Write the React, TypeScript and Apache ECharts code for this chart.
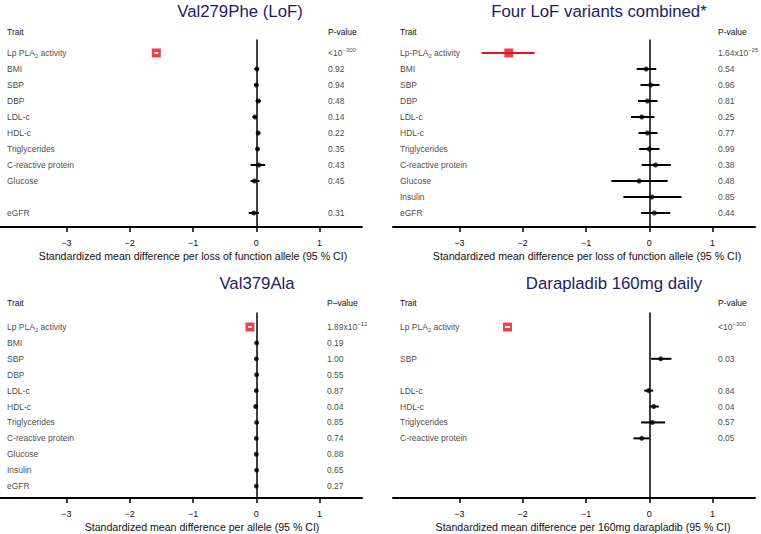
import React, { useEffect, useRef } from "react";
import * as echarts from "echarts";

// ---------- Data ----------
// Row slots: 0 Lp-PLA2, 1 BMI, 2 SBP, 3 DBP, 4 LDL-c, 5 HDL-c, 6 Triglycerides,
// 7 C-reactive protein, 8 Glucose, 9 Insulin, 10 eGFR
const xTicks = [-3, -2, -1, 0, 1];

const v279Rows = [0, 1, 2, 3, 4, 5, 6, 7, 8, 10];
const v279Labels = ["Lp PLA2 activity", "BMI", "SBP", "DBP", "LDL-c", "HDL-c", "Triglycerides", "C-reactive protein", "Glucose", "eGFR"];
const v279Est = [-1.58, 0.01, 0.0, 0.03, -0.02, 0.03, 0.02, 0.04, -0.03, -0.04];
const v279Lo = [-1.61, -0.03, -0.03, -0.01, -0.06, 0.01, -0.01, -0.09, -0.09, -0.12];
const v279Hi = [-1.55, 0.04, 0.03, 0.07, 0.01, 0.05, 0.04, 0.14, 0.05, 0.04];
const v279P = ["<10^−300", "0.92", "0.94", "0.48", "0.14", "0.22", "0.35", "0.43", "0.45", "0.31"];

const lof4Rows = [0, 1, 2, 3, 4, 5, 6, 7, 8, 9, 10];
const lof4Labels = ["Lp-PLA2 activity", "BMI", "SBP", "DBP", "LDL-c", "HDL-c", "Triglycerides", "C-reactive protein", "Glucose", "Insulin", "eGFR"];
const lof4Est = [-2.22, -0.05, 0.02, -0.03, -0.12, -0.03, 0.0, 0.1, -0.16, 0.04, 0.08];
const lof4Lo = [-2.65, -0.2, -0.14, -0.18, -0.29, -0.17, -0.16, -0.12, -0.6, -0.41, -0.13];
const lof4Hi = [-1.81, 0.11, 0.16, 0.13, 0.08, 0.13, 0.16, 0.34, 0.29, 0.51, 0.33];
const lof4P = ["1.64x10^−25", "0.54", "0.96", "0.81", "0.25", "0.77", "0.99", "0.38", "0.48", "0.85", "0.44"];

const v379Rows = [0, 1, 2, 3, 4, 5, 6, 7, 8, 9, 10];
const v379Labels = ["Lp PLA2 activity", "BMI", "SBP", "DBP", "LDL-c", "HDL-c", "Triglycerides", "C-reactive protein", "Glucose", "Insulin", "eGFR"];
const v379Est = [-0.1, 0.005, 0.0, 0.005, 0.0, -0.01, 0.005, 0.0, 0.0, 0.005, 0.0];
const v379Lo = [-0.13, -0.01, -0.015, -0.01, -0.015, -0.025, -0.01, -0.015, -0.015, -0.01, -0.015];
const v379Hi = [-0.07, 0.02, 0.015, 0.02, 0.015, 0.005, 0.02, 0.015, 0.015, 0.02, 0.015];
const v379P = ["1.89x10^−12", "0.19", "1.00", "0.55", "0.87", "0.04", "0.85", "0.74", "0.88", "0.65", "0.27"];

const daraRows = [0, 2, 4, 5, 6, 7];
const daraLabels = ["Lp PLA2 activity", "SBP", "LDL-c", "HDL-c", "Triglycerides", "C-reactive protein"];
const daraEst = [-2.24, 0.18, -0.01, 0.07, 0.05, -0.12];
const daraLo = [-2.28, 0.03, -0.08, 0.01, -0.13, -0.25];
const daraHi = [-2.2, 0.35, 0.06, 0.15, 0.25, 0.0];
const daraP = ["<10^−300", "0.03", "0.84", "0.04", "0.57", "0.05"];

// ---------- Layout / style ----------
const FONT = "Liberation Sans, Arial, Helvetica, sans-serif";
const X_MIN = -4.05;
const X_MAX = 1.67;
const RED = "#e3161c";
const TXT = "#111111";

const panels = [
  {
    title: "Val279Phe (LoF)", titleX: 240, titleY: 11,
    left: 0, top: 40, height: 187, yMin: -0.8125, yMax: 10.875, headerY: 32,
    pHeader: "P-value", pOffset: 328,
    axisName: "Standardized mean difference per loss of function allele (95 % CI)", namePad: 24,
    rows: v279Rows, labels: v279Labels, est: v279Est, lo: v279Lo, hi: v279Hi, p: v279P, lpRed: false,
  },
  {
    title: "Four LoF variants combined*", titleX: 599, titleY: 11,
    left: 393, top: 40, height: 187, yMin: -0.8125, yMax: 10.875, headerY: 32,
    pHeader: "P-value", pOffset: 325,
    axisName: "Standardized mean difference per loss of function allele (95 % CI)", namePad: 26,
    rows: lof4Rows, labels: lof4Labels, est: lof4Est, lo: lof4Lo, hi: lof4Hi, p: lof4P, lpRed: true,
  },
  {
    title: "Val379Ala", titleX: 257, titleY: 283,
    left: 0, top: 313, height: 185, yMin: -0.88, yMax: 10.75, headerY: 303,
    pHeader: "P–value", pOffset: 327,
    axisName: "Standardized mean difference per allele (95 % CI)", namePad: 42,
    rows: v379Rows, labels: v379Labels, est: v379Est, lo: v379Lo, hi: v379Hi, p: v379P, lpRed: false,
  },
  {
    title: "Darapladib 160mg daily", titleX: 614, titleY: 283,
    left: 393, top: 313, height: 185, yMin: -0.88, yMax: 10.75, headerY: 303,
    pHeader: "P-value", pOffset: 325,
    axisName: "Standardized mean difference per 160mg darapladib (95 % CI)", namePad: 18,
    rows: daraRows, labels: daraLabels, est: daraEst, lo: daraLo, hi: daraHi, p: daraP, lpRed: false,
  },
];
const GRID_W = 362;

const richStyles = {
  s: { fontSize: 6, verticalAlign: "bottom", lineHeight: 12, fontFamily: FONT, color: TXT },
  p: { fontSize: 6, verticalAlign: "top", lineHeight: 12, fontFamily: FONT, color: TXT },
};

function toRich(t: string) {
  let s = t.replace("PLA2", "PLA{s|2}");
  const i = s.indexOf("^");
  if (i >= 0) s = s.slice(0, i) + "{p|" + s.slice(i + 1) + "}";
  return s;
}

function ciRender(color: string, width: number) {
  return (params: any, api: any) => {
    const a = api.coord([api.value(0), api.value(2)]);
    const b = api.coord([api.value(1), api.value(2)]);
    return {
      type: "line",
      shape: { x1: a[0], y1: a[1], x2: b[0], y2: b[1] },
      style: { stroke: color, lineWidth: width },
    };
  };
}

function buildOption() {
  const grid: any[] = [];
  const xAxis: any[] = [];
  const yAxis: any[] = [];
  const series: any[] = [];
  const graphic: any[] = [];

  panels.forEach((pn, k) => {
    grid.push({ left: pn.left, top: pn.top, width: GRID_W, height: pn.height, containLabel: false });
    xAxis.push({
      type: "value", gridIndex: k, min: X_MIN, max: X_MAX,
      axisLine: { show: true, onZero: false, lineStyle: { color: "#000", width: 2 } },
      axisTick: { show: true, customValues: xTicks, length: 5, lineStyle: { color: "#000", width: 1.5 } },
      axisLabel: {
        show: true, customValues: xTicks, margin: 11, fontSize: 9, color: TXT, fontFamily: FONT,
        formatter: (v: number) => (v < 0 ? "−" + Math.abs(v) : String(v)),
      },
      splitLine: { show: false },
      name: pn.axisName, nameLocation: "middle", nameGap: 23,
      nameTextStyle: { fontSize: 10.6, color: TXT, fontFamily: FONT, padding: [0, 0, 0, pn.namePad] },
    });
    yAxis.push({
      type: "value", gridIndex: k, min: pn.yMin, max: pn.yMax, inverse: true,
      axisLine: { show: true, onZero: true, lineStyle: { color: "#000", width: 1.5 } },
      axisTick: { show: false }, axisLabel: { show: false }, splitLine: { show: false },
    });

    const ci: any[] = [];
    const dots: any[] = [];
    const lpCi: any[] = [];
    const lp: any[] = [];
    const names: any[] = [];
    const pvals: any[] = [];
    pn.rows.forEach((r, i) => {
      if (r === 0) {
        lpCi.push([pn.lo[i], pn.hi[i], r]);
        lp.push([pn.est[i], r]);
      } else {
        ci.push([pn.lo[i], pn.hi[i], r]);
        dots.push([pn.est[i], r]);
      }
      names.push([X_MIN, r, pn.labels[i]]);
      pvals.push([X_MIN, r, pn.p[i]]);
    });

    series.push({
      type: "custom", xAxisIndex: k, yAxisIndex: k, data: ci, z: 2,
      encode: { x: [0, 1], y: 2 }, renderItem: ciRender("#000", 2),
    });
    series.push({
      type: "scatter", xAxisIndex: k, yAxisIndex: k, data: dots, z: 3,
      symbol: "circle", symbolSize: 5, itemStyle: { color: "#000" },
    });
    series.push({
      type: "custom", xAxisIndex: k, yAxisIndex: k, data: lpCi, z: pn.lpRed ? 2 : 5,
      encode: { x: [0, 1], y: 2 }, renderItem: ciRender(pn.lpRed ? RED : "#fff", 2),
    });
    series.push({
      type: "scatter", xAxisIndex: k, yAxisIndex: k, data: lp, z: 4,
      symbol: "rect", symbolSize: 9, itemStyle: { color: RED },
    });
    const labelBase = {
      show: true, position: "right", fontSize: 8.5, color: TXT, fontFamily: FONT,
      lineHeight: 12, verticalAlign: "middle", rich: richStyles,
      formatter: (p: any) => toRich(p.data[2]),
    };
    series.push({
      type: "scatter", xAxisIndex: k, yAxisIndex: k, data: names, symbolSize: 0, clip: false,
      silent: true, label: { ...labelBase, distance: 7 },
    });
    series.push({
      type: "scatter", xAxisIndex: k, yAxisIndex: k, data: pvals, symbolSize: 0, clip: false,
      silent: true, label: { ...labelBase, distance: pn.pOffset },
    });

    graphic.push({
      type: "text", x: pn.titleX, y: pn.titleY,
      style: { text: pn.title, fill: "#1c1c66", font: `16.8px ${FONT}`, align: "center", verticalAlign: "middle" },
    });
    graphic.push({
      type: "text", x: pn.left + 7, y: pn.headerY,
      style: { text: "Trait", fill: TXT, font: `8.5px ${FONT}`, align: "left", verticalAlign: "middle" },
    });
    graphic.push({
      type: "text", x: pn.left + pn.pOffset, y: pn.headerY,
      style: { text: pn.pHeader, fill: TXT, font: `8.5px ${FONT}`, align: "left", verticalAlign: "middle" },
    });
  });

  return {
    animation: false,
    backgroundColor: "#fff",
    grid, xAxis, yAxis, series, graphic,
    textStyle: { fontFamily: FONT },
  };
}

export default function App() {
  const ref = useRef<HTMLDivElement>(null);
  useEffect(() => {
    if (!ref.current) return;
    const chart = echarts.init(ref.current, undefined, { renderer: "svg" });
    chart.setOption(buildOption() as any);
    return () => chart.dispose();
  }, []);
  return (
    <div
      ref={ref}
      style={{ position: "fixed", left: 0, top: 0, width: 761, height: 534, background: "#fff" }}
    />
  );
}
